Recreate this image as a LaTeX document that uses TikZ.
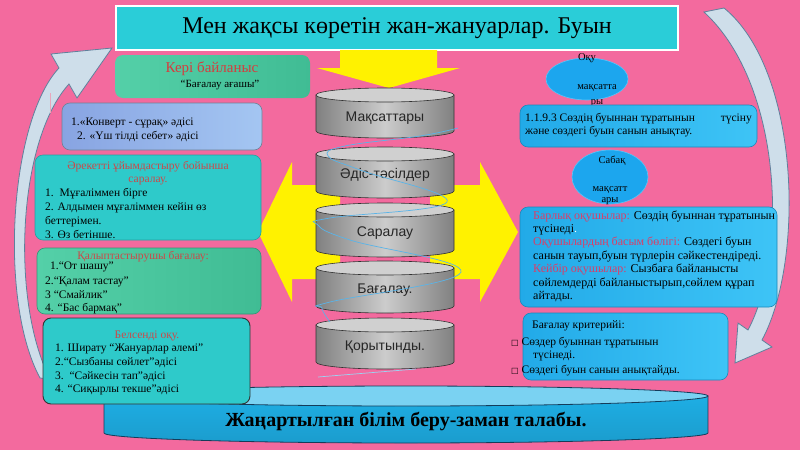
\documentclass[tikz,border=0pt]{standalone}
\usepackage{fontspec}
\setmainfont{Liberation Serif}
\newfontfamily\arialf{Liberation Sans}
\newfontfamily\dejavu{DejaVu Sans}
\definecolor{bgpink}{RGB}{243,106,158}
\definecolor{titlecyan}{RGB}{42,205,216}
\definecolor{greenL}{RGB}{84,208,168}
\definecolor{greenD}{RGB}{64,188,148}
\definecolor{boxteal}{RGB}{46,202,202}
\definecolor{lavL}{RGB}{136,164,226}
\definecolor{lavR}{RGB}{164,198,242}
\definecolor{blueL}{RGB}{34,170,232}
\definecolor{blueR}{RGB}{62,196,246}
\definecolor{ellblue}{RGB}{28,166,238}
\definecolor{elledge}{RGB}{90,196,248}
\definecolor{txtred}{RGB}{212,62,62}
\definecolor{txtred2}{RGB}{205,72,72}
\definecolor{txtpink}{RGB}{218,62,104}
\definecolor{arrowfill}{RGB}{206,222,234}
\definecolor{arrowedge}{RGB}{96,128,156}
\definecolor{squigc}{RGB}{90,180,232}
\definecolor{bannertop}{RGB}{122,210,242}
\definecolor{bannerbody}{RGB}{30,174,228}
\definecolor{bannerE}{RGB}{20,60,90}
\definecolor{drumD}{RGB}{128,128,128}
\definecolor{drumL}{RGB}{204,204,204}
\definecolor{drumT}{RGB}{208,208,208}
\definecolor{drumE}{RGB}{50,50,50}
\definecolor{boxedge}{RGB}{110,130,150}
\newcommand\mydrum[5]{%
  \shadedraw[left color=drumD, right color=drumD, middle color=drumL, draw=drumE, line width=0.6pt]
    (316,#2) -- (316,#3) arc[start angle=180, end angle=0, x radius=69, y radius=7] -- (454,#2) -- cycle;
  \filldraw[fill=drumT, draw=drumE, line width=0.6pt] (385,#2) ellipse[x radius=69, y radius=7];
  \node[drumtext] (#1) at (385,#4) {#5};
}
\begin{document}
\begin{tikzpicture}[x=1pt,y=-1pt,
  ln/.style={anchor=base west, inner sep=0pt, font=\fontsize{11.5}{14}\selectfont},
  lnc/.style={anchor=base, inner sep=0pt, font=\fontsize{11.5}{14}\selectfont},
  rln/.style={anchor=base west, inner sep=0pt, font=\fontsize{12}{14}\selectfont},
  smln/.style={anchor=base west, inner sep=0pt, font=\fontsize{11.5}{13}\selectfont},
  elln/.style={anchor=base, inner sep=0pt, font=\fontsize{10.5}{12}\selectfont},
  drumtext/.style={inner sep=0pt, font=\arialf\fontsize{14}{16}\selectfont, text=black!85},
  roundbox/.style={rounded corners=8pt, line width=0.6pt},
  curvearrow/.style={fill=arrowfill, draw=arrowedge, line width=0.8pt},
  yelarrow/.style={fill=yellow},
  squig/.style={draw=squigc, line width=0.7pt},
]
\useasboundingbox (0,0) rectangle (800,450);
\fill[bgpink] (0,0) rectangle (800,450);

% curved arrows
\filldraw[curvearrow] (40,378) .. controls (-2,300) and (10,120) .. (59,68) -- (51,54) -- (112,48) -- (77,98) -- (69,84) .. controls (18,140) and (10,300) .. (50,379) -- cycle;
\draw[draw=purple!35!white, line width=1pt] (50,93) -- (50,113);
\filldraw[curvearrow] (704,12) -- (724,8) .. controls (800,70) and (805,260) .. (762,340) -- (772,347) -- (735,363) -- (738,323) -- (748,330) .. controls (788,255) and (783,85) .. (704,12) -- cycle;

% title
\draw[fill=titlecyan, draw=white, line width=2pt] (116,6) rectangle (678,50);
\node[inner sep=0pt, font=\fontsize{24}{26}\selectfont] (title) at (397,28) {Мен жақсы көретін жан-жануарлар. Буын};

% yellow arrows
\fill[yelarrow] (340,50) -- (437,50) -- (437,68) -- (460,68) -- (389,88) -- (317,68) -- (340,68) -- cycle;
\fill[yelarrow] (340,185) -- (292,185) -- (292,162) -- (258,232) -- (292,302) -- (292,279) -- (340,279) -- cycle;
\fill[yelarrow] (430,185) -- (480,185) -- (480,162) -- (518,232) -- (480,302) -- (480,279) -- (430,279) -- cycle;

% drums
\mydrum{d1}{95}{131}{118}{Мақсаттары}
\mydrum{d2}{154}{191}{175}{Әдіс-тәсілдер}
\mydrum{d3}{210}{250}{233}{Саралау}
\mydrum{d4}{268}{306}{290}{Бағалау.}
\mydrum{d5}{325}{362}{347}{Қорытынды.}
\draw[squig] plot[smooth, tension=0.7] coordinates {(458,128) (420,136) (345,146) (328,156) (360,170) (447,202) (330,218) (318,225) (350,240) (461,272) (330,302) (322,308) (330,322)};
\draw[squig, draw=squigc!60!white] (318,377) -- (416,369);

% banner
\shadedraw[top color=bannerbody, bottom color=bannerbody!90!black, draw=bannerE, line width=0.8pt] (104,396) -- (104,433) arc[start angle=180, end angle=0, x radius=302, y radius=10] -- (708,396) -- cycle;
\filldraw[fill=bannertop, draw=bannerE, line width=0.8pt] (406,396) ellipse[x radius=302, y radius=10];
\node[inner sep=0pt, font=\bfseries\fontsize{20}{22}\selectfont] (banner) at (406,421) {Жаңартылған білім беру-заман талабы.};

% left boxes
\shade[roundbox, left color=greenL, right color=greenD] (115,55) rectangle (310,98);
\node[inner sep=0pt, font=\fontsize{15}{17}\selectfont, text=txtred] (kb1) at (212,69) {Кері байланыс};
\node[inner sep=0pt, font=\fontsize{11}{13}\selectfont] (kb2) at (220,85) {“Бағалау ағашы”};

\shadedraw[roundbox, left color=lavL, right color=lavR, draw=boxedge] (62,103) rectangle (262,150);
\node[ln] (lv1) at (71,125) {1.«Конверт - сұрақ» әдісі};
\node[ln] (lv2) at (77,139) {2. «Үш тілді себет» әдісі};

\filldraw[roundbox, fill=boxteal, draw=boxteal!80!black] (35,155) rectangle (261,240);
\node[lnc, text=txtred2] (t1a) at (148,169) {Әрекетті ұйымдастыру бойынша};
\node[lnc, text=txtred2] (t1b) at (148,182) {саралау.};
\node[ln] (t1c) at (45,196) {1.\ \ Мұғаліммен бірге};
\node[ln] (t1d) at (45,210) {2. Алдымен мұғаліммен кейін өз};
\node[ln] (t1e) at (45,224) {беттерімен.};
\node[ln] (t1f) at (45,238) {3. Өз бетінше.};

\shadedraw[roundbox, left color=greenL, right color=greenD, draw=greenD!80!black] (37,248) rectangle (261,314);
\node[lnc, text=txtred2] (g2a) at (143,259) {Қалыптастырушы бағалау:};
\node[ln] (g2b) at (50,269) {1.“От шашу”};
\node[ln] (g2c) at (45,284) {2.“Қалам тастау”};
\node[ln] (g2d) at (45,298) {3 “Смайлик”};
\node[ln] (g2e) at (45,311) {4. “Бас бармақ”};

\filldraw[roundbox, fill=boxteal, draw=black!80, line width=0.9pt] (43,318) rectangle (250,404);
\node[lnc, text=txtred2] (t2a) at (147,338) {Белсенді оқу.};
\node[ln] (t2b) at (55,351) {1. Ширату “Жануарлар әлемі”};
\node[ln] (t2c) at (55,365) {2.“Сызбаны сөйлет”әдісі};
\node[ln] (t2d) at (55,379) {3.\ \ “Сәйкесін тап”әдісі};
\node[ln] (t2e) at (55,392) {4. “Сиқырлы текше”әдісі};

% right side
\filldraw[fill=ellblue, draw=elledge, line width=0.6pt] (587,79) ellipse[x radius=41, y radius=21];
\node[elln] (e1a) at (587,60) {Оқу};
\node[elln] (e1b) at (597,89) {мақсатта};
\node[elln] (e1c) at (597,104) {ры};

\shadedraw[roundbox, left color=blueL, right color=blueR, draw=blueL!80!black] (520,105) rectangle (757,147);
\node[smln] (o1a) at (525,121) {1.1.9.3 Сөздің буыннан тұратынын};
\node[smln, anchor=base east] (o1b) at (752,121) {түсіну};
\node[smln] (o1c) at (525,134) {және сөздегі буын санын анықтау.};

\filldraw[fill=ellblue, draw=elledge, line width=0.6pt] (610,177) ellipse[x radius=38, y radius=27];
\node[elln] (e2a) at (612,163) {Сабақ};
\node[elln] (e2b) at (610,191) {мақсатт};
\node[elln] (e2c) at (610,202) {ары};

\shadedraw[roundbox, left color=blueL, right color=blueR, draw=blueL!80!black] (520,207) rectangle (777,307);
\node[rln] (s1) at (533,219) {\textcolor{txtpink}{Барлық оқушылар:} Сөздің буыннан тұратынын};
\node[rln] (s2) at (533,232.4) {түсінеді\textcolor{white}{.}};
\node[rln] (s3) at (533,245.8) {\textcolor{txtpink}{Оқушылардың басым бөлігі:} Сөздегі буын};
\node[rln] (s4) at (533,259.2) {санын тауып,буын түрлерін сәйкестендіреді.};
\node[rln] (s5) at (533,272.6) {\textcolor{txtpink}{Кейбір оқушылар:} Сызбаға байланысты};
\node[rln] (s6) at (533,286) {сөйлемдерді байланыстырып,сөйлем құрап};
\node[rln] (s7) at (533,299.4) {айтады.};

\shadedraw[roundbox, left color=blueL, right color=blueR, draw=blueL!80!black] (523,313) rectangle (728,380);
\node[ln] (k1) at (532,328) {Бағалау критерийі:};
\node[ln] (k2) at (511,345) {{\dejavu\fontsize{8}{10}\selectfont □} Сөздер буыннан тұратынын};
\node[ln] (k3) at (533,358) {түсінеді.};
\node[ln] (k4) at (511,373) {{\dejavu\fontsize{8}{10}\selectfont □} Сөздегі буын санын анықтайды.};
\end{tikzpicture}
\end{document}
